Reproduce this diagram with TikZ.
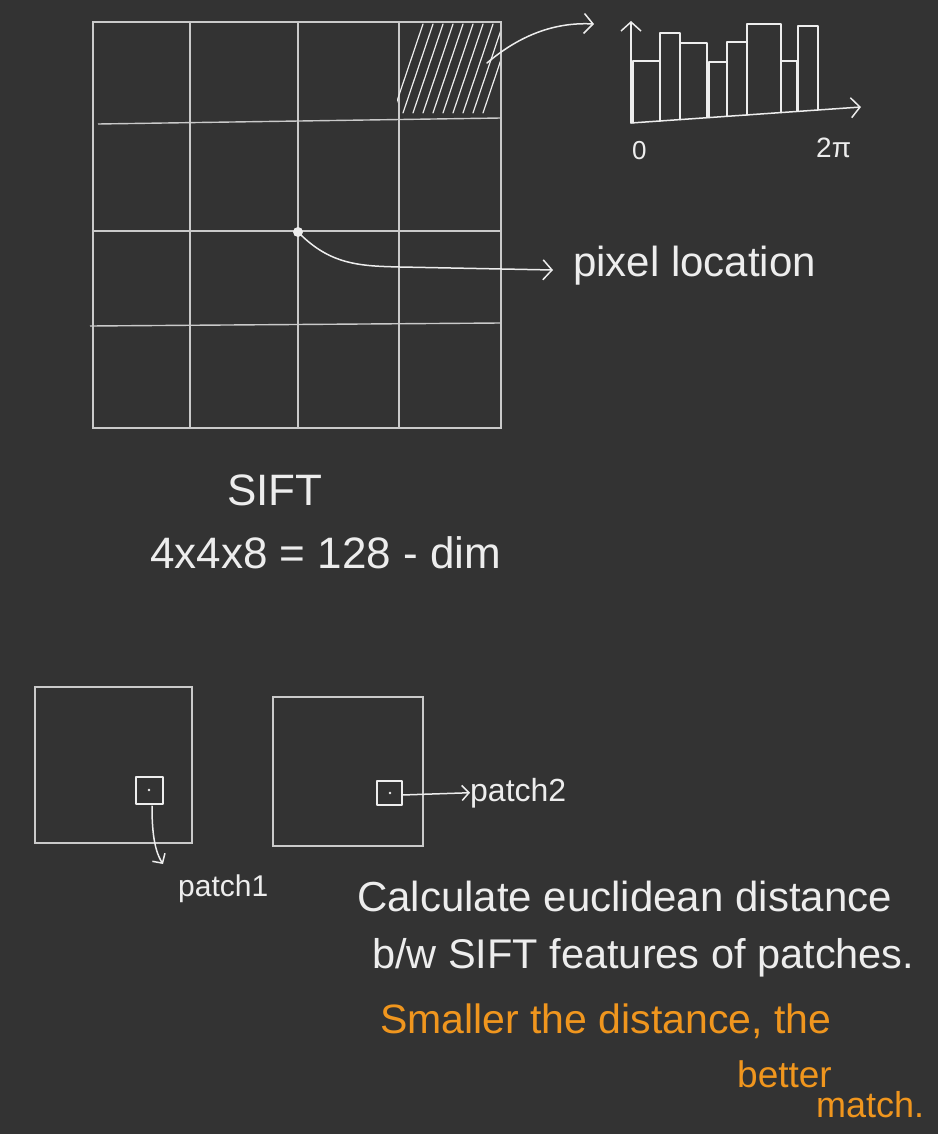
\documentclass[tikz,border=0pt]{standalone}
\usepackage{fontspec}
\setmainfont{Liberation Sans}
\usetikzlibrary{arrows.meta}
\definecolor{bg}{HTML}{333333}
\definecolor{ink}{HTML}{EDEDED}
\definecolor{gridc}{HTML}{CACACA}
\definecolor{orng}{HTML}{F0961E}
\tikzset{
  gridline/.style={draw=gridc, line width=1.4pt},
  pen/.style={draw=ink, line width=1.5pt, line cap=round, line join=round},
  chev/.style={-{Straight Barb[length=9pt,width=20pt]}},
  smallchev/.style={-{Straight Barb[length=7pt,width=15pt]}},
  txt/.style={anchor=base west, inner sep=0pt, text=ink},
  otxt/.style={anchor=base west, inner sep=0pt, text=orng},
}
\begin{document}
\begin{tikzpicture}[x=1pt,y=-1pt]
\fill[bg] (0,0) rectangle (938,1134);
\useasboundingbox (0,0) rectangle (938,1134);
% ---- 4x4 grid
\draw[gridline] (93,22) rectangle (501,428);
\draw[gridline] (190,22) -- (190,428);
\draw[gridline] (298,22) -- (298,428);
\draw[gridline] (399,22) -- (399,428);
\draw[gridline] (98,124) -- (501,118);
\draw[gridline] (93,231) -- (501,231);
\draw[gridline] (90,326) -- (501,323);
% hatched cell
\begin{scope}
  \clip (397,23) rectangle (500,117);
  \foreach \s in {393,403,...,483} \draw[pen, line width=1.2pt] (\s,113) -- (\s+30,24);
\end{scope}
% pixel location
\fill[ink] (298,232) circle (5pt);
\coordinate (dot) at (298,232);
\coordinate (pixtip) at (553,270);
\node[txt, font=\fontsize{42}{50}\selectfont] (pixtxt) at (573,276) {pixel location};
\draw[pen, chev] (dot) .. controls (330,265) and (360,266) .. (400,267) -- (pixtip);
% ---- histogram
\coordinate (cellout) at (487,63);
\coordinate (histtip) at (594,24);
\draw[pen, chev] (cellout) .. controls (520,35) and (555,22) .. (histtip);
\coordinate (orig) at (631,123);
\coordinate (ytip) at (631,21);
\coordinate (xtip) at (861,107);
\draw[pen, chev] (orig) -- (ytip);
\draw[pen, chev] (orig) -- (xtip);
\foreach \a/\b/\t in {633/660/61, 660/680/33, 680/707/43, 709/727/62, 727/747/42, 747/781/24, 781/797/61, 798/818/26} {
  \draw[pen] (\a,{123-0.07*(\a-631)}) -- (\a,\t) -- (\b,\t) -- (\b,{123-0.07*(\b-631)});
}
\node[txt, font=\fontsize{26}{30}\selectfont] (zero) at (632,160) {0};
\node[txt, font=\fontsize{28}{32}\selectfont] (twopi) at (816,158) {2π};
% ---- SIFT text
\node[txt, font=\fontsize{44}{50}\selectfont] (sift) at (227,505) {SIFT};
\node[txt, font=\fontsize{44}{50}\selectfont] (dim) at (150,568) {4x4x8 = 128 - dim};
% ---- patches
\draw[gridline] (35,687) rectangle (192,843);
\draw[gridline] (273,697) rectangle (423,846);
\draw[pen] (136,777) rectangle (163,804);
\fill[ink] (149,790) circle (1.3pt);
\draw[pen] (377,781) rectangle (402,805);
\fill[ink] (390,793) circle (1.3pt);
\coordinate (p1out) at (152,806);
\coordinate (p1tip) at (163,864);
\draw[pen, smallchev] (p1out) .. controls (152,830) and (154,850) .. (p1tip);
\node[txt, font=\fontsize{30}{36}\selectfont] (p1txt) at (178,896) {patch1};
\coordinate (p2out) at (402,795);
\node[txt, font=\fontsize{32}{36}\selectfont] (p2txt) at (470,801) {patch2};
\draw[pen, smallchev] (p2out) -- (p2txt.west);
% ---- explanation
\node[txt, font=\fontsize{42}{50}\selectfont] (l1) at (357,911) {Calculate euclidean distance};
\node[txt, font=\fontsize{41.5}{50}\selectfont] (l2) at (372,968) {b/w SIFT features of patches.};
\node[otxt, font=\fontsize{41}{50}\selectfont] (l3) at (380,1033) {Smaller the distance, the};
\node[otxt, font=\fontsize{37}{44}\selectfont] (l4) at (737,1087) {better};
\node[otxt, font=\fontsize{36}{44}\selectfont] (l5) at (816,1117) {match.};
\end{tikzpicture}
\end{document}
